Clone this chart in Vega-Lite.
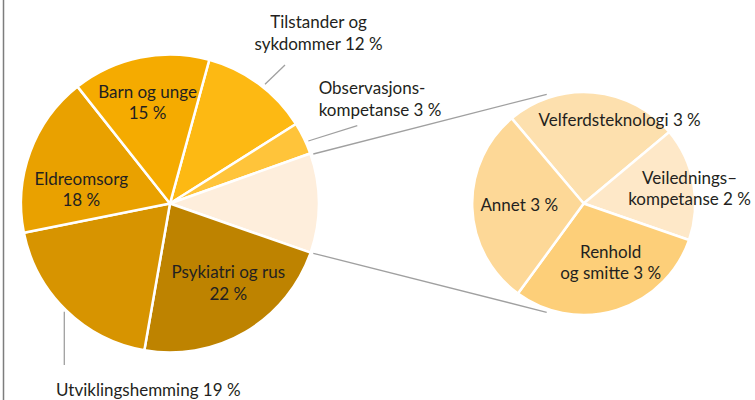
{
  "$schema": "https://vega.github.io/schema/vega-lite/v6.json",
  "width": 755,
  "height": 393,
  "padding": {"left": 0, "right": 0, "top": 7, "bottom": 0},
  "autosize": {"type": "none"},
  "background": "white",
  "config": {
    "view": {"stroke": null},
    "text": {"font": "Lato", "fontSize": 17, "color": "#231F20", "lineBreak": "\n", "lineHeight": 21.5}
  },
  "datasets": {
    "main": [
      {"pie": "main", "category": "Tilstander og sykdommer", "value": 11.8, "rank": 1, "label": "Tilstander og\nsykdommer 12 %"},
      {"pie": "main", "category": "Observasjonskompetanse", "value": 3.5, "rank": 2, "label": "Observasjons-\nkompetanse 3 %"},
      {"pie": "main", "category": "Andre", "value": 10.8, "rank": 3, "label": ""},
      {"pie": "main", "category": "Psykiatri og rus", "value": 22.4, "rank": 4, "label": "Psykiatri og rus\n22 %"},
      {"pie": "main", "category": "Utviklingshemming", "value": 19.1, "rank": 5, "label": "Utviklingshemming 19 %"},
      {"pie": "main", "category": "Eldreomsorg", "value": 17.5, "rank": 6, "label": "Eldreomsorg\n18 %"},
      {"pie": "main", "category": "Barn og unge", "value": 14.9, "rank": 7, "label": "Barn og unge\n15 %"}
    ],
    "detail": [
      {"pie": "detail", "category": "Velferdsteknologi", "value": 2.71, "rank": 1, "label": "Velferdsteknologi 3 %"},
      {"pie": "detail", "category": "Veiledningskompetanse", "value": 1.77, "rank": 2, "label": "Veilednings–\nkompetanse 2 %"},
      {"pie": "detail", "category": "Renhold og smitte", "value": 3.21, "rank": 3, "label": "Renhold\nog smitte 3 %"},
      {"pie": "detail", "category": "Annet", "value": 3.11, "rank": 4, "label": "Annet 3 %"}
    ]
  },
  "resolve": {"scale": {"x": "independent", "y": "independent", "theta": "independent", "color": "independent"}},
  "layer": [
    {
      "data": {"values": [{}]},
      "mark": {"type": "rule", "color": "#7d7d7d", "strokeWidth": 1.5},
      "encoding": {
        "x": {"datum": 3.5, "type": "quantitative", "scale": {"domain": [0, 755], "nice": false, "zero": false}, "axis": null},
        "y": {"datum": 0, "type": "quantitative", "scale": {"domain": [7, 400], "reverse": true, "nice": false, "zero": false}, "axis": null},
        "y2": {"datum": 400}
      }
    },
    {
      "data": {"values": [{}]},
      "mark": {"type": "rule", "color": "#a0a0a0", "strokeWidth": 1.3},
      "encoding": {
        "x": {"datum": 265, "type": "quantitative", "scale": {"domain": [0, 755], "nice": false, "zero": false}, "axis": null},
        "y": {"datum": 84.3, "type": "quantitative", "scale": {"domain": [7, 400], "reverse": true, "nice": false, "zero": false}, "axis": null},
        "x2": {"datum": 285},
        "y2": {"datum": 65}
      }
    },
    {
      "data": {"values": [{}]},
      "mark": {"type": "rule", "color": "#a0a0a0", "strokeWidth": 1.3},
      "encoding": {
        "x": {"datum": 308.3, "type": "quantitative", "scale": {"domain": [0, 755], "nice": false, "zero": false}, "axis": null},
        "y": {"datum": 141, "type": "quantitative", "scale": {"domain": [7, 400], "reverse": true, "nice": false, "zero": false}, "axis": null},
        "x2": {"datum": 357.3},
        "y2": {"datum": 125.7}
      }
    },
    {
      "data": {"values": [{}]},
      "mark": {"type": "rule", "color": "#a0a0a0", "strokeWidth": 1.3},
      "encoding": {
        "x": {"datum": 64.3, "type": "quantitative", "scale": {"domain": [0, 755], "nice": false, "zero": false}, "axis": null},
        "y": {"datum": 311.7, "type": "quantitative", "scale": {"domain": [7, 400], "reverse": true, "nice": false, "zero": false}, "axis": null},
        "x2": {"datum": 64.3},
        "y2": {"datum": 365}
      }
    },
    {
      "data": {"values": [{}]},
      "mark": {"type": "rule", "color": "#a0a0a0", "strokeWidth": 1.3},
      "encoding": {
        "x": {"datum": 313.3, "type": "quantitative", "scale": {"domain": [0, 755], "nice": false, "zero": false}, "axis": null},
        "y": {"datum": 154, "type": "quantitative", "scale": {"domain": [7, 400], "reverse": true, "nice": false, "zero": false}, "axis": null},
        "x2": {"datum": 546.7},
        "y2": {"datum": 94.3}
      }
    },
    {
      "data": {"values": [{}]},
      "mark": {"type": "rule", "color": "#a0a0a0", "strokeWidth": 1.3},
      "encoding": {
        "x": {"datum": 313.3, "type": "quantitative", "scale": {"domain": [0, 755], "nice": false, "zero": false}, "axis": null},
        "y": {"datum": 253.3, "type": "quantitative", "scale": {"domain": [7, 400], "reverse": true, "nice": false, "zero": false}, "axis": null},
        "x2": {"datum": 546.7},
        "y2": {"datum": 312.3}
      }
    },
    {
      "data": {"name": "main"},
      "mark": {"type": "arc", "outerRadius": 149, "stroke": "white", "strokeWidth": 2.5},
      "encoding": {
        "x": {"field": "pie", "type": "nominal", "scale": {"type": "point", "domain": ["main", "detail"], "padding": 0.4125, "align": 0.498}, "axis": null},
        "theta": {"field": "value", "type": "quantitative", "stack": true, "scale": {"range": [0.267, 6.5502]}},
        "order": {"field": "rank", "type": "quantitative"},
        "color": {"field": "category", "type": "nominal", "legend": null, "scale": {
          "domain": ["Tilstander og sykdommer", "Observasjonskompetanse", "Andre", "Psykiatri og rus", "Utviklingshemming", "Eldreomsorg", "Barn og unge"],
          "range": ["#FDB913", "#FFC43A", "#FEEEDC", "#BE8300", "#D79400", "#E9A100", "#F5AB00"]}}
      }
    },
    {
      "data": {"name": "detail"},
      "mark": {"type": "arc", "outerRadius": 111.5, "stroke": "white", "strokeWidth": 2.5},
      "encoding": {
        "x": {"field": "pie", "type": "nominal", "scale": {"type": "point", "domain": ["main", "detail"], "padding": 0.4125, "align": 0.498}, "axis": null},
        "theta": {"field": "value", "type": "quantitative", "stack": true, "scale": {"range": [5.5816, 11.8648]}},
        "order": {"field": "rank", "type": "quantitative"},
        "color": {"field": "category", "type": "nominal", "legend": null, "scale": {
          "domain": ["Velferdsteknologi", "Veiledningskompetanse", "Renhold og smitte", "Annet"],
          "range": ["#FDE0AE", "#FEE8C8", "#FDCF79", "#FDD897"]}}
      }
    },
    {
      "data": {"name": "main"},
      "mark": {"type": "text", "radius": 103.8, "thetaOffset": -0.017, "align": "center", "baseline": "middle", "dy": -9.5},
      "encoding": {
        "x": {"field": "pie", "type": "nominal", "scale": {"type": "point", "domain": ["main", "detail"], "padding": 0.4125, "align": 0.498}, "axis": null},
        "theta": {"field": "value", "type": "quantitative", "stack": true, "scale": {"range": [0.267, 6.5502]}},
        "order": {"field": "rank", "type": "quantitative"},
        "text": {"condition": {"test": "datum.category === 'Barn og unge'", "field": "label"}, "value": ""}
      }
    },
    {
      "data": {"name": "main"},
      "mark": {"type": "text", "radius": 89.8, "thetaOffset": -0.195, "align": "center", "baseline": "middle", "dy": -9.5},
      "encoding": {
        "x": {"field": "pie", "type": "nominal", "scale": {"type": "point", "domain": ["main", "detail"], "padding": 0.4125, "align": 0.498}, "axis": null},
        "theta": {"field": "value", "type": "quantitative", "stack": true, "scale": {"range": [0.267, 6.5502]}},
        "order": {"field": "rank", "type": "quantitative"},
        "text": {"condition": {"test": "datum.category === 'Eldreomsorg'", "field": "label"}, "value": ""}
      }
    },
    {
      "data": {"name": "main"},
      "mark": {"type": "text", "radius": 98.4, "thetaOffset": -0.103, "align": "center", "baseline": "middle", "dy": -9.5},
      "encoding": {
        "x": {"field": "pie", "type": "nominal", "scale": {"type": "point", "domain": ["main", "detail"], "padding": 0.4125, "align": 0.498}, "axis": null},
        "theta": {"field": "value", "type": "quantitative", "stack": true, "scale": {"range": [0.267, 6.5502]}},
        "order": {"field": "rank", "type": "quantitative"},
        "text": {"condition": {"test": "datum.category === 'Psykiatri og rus'", "field": "label"}, "value": ""}
      }
    },
    {
      "data": {"name": "main"},
      "mark": {"type": "text", "radius": 226.7, "thetaOffset": 0.077, "align": "center", "baseline": "middle", "dy": -9},
      "encoding": {
        "x": {"field": "pie", "type": "nominal", "scale": {"type": "point", "domain": ["main", "detail"], "padding": 0.4125, "align": 0.498}, "axis": null},
        "theta": {"field": "value", "type": "quantitative", "stack": true, "scale": {"range": [0.267, 6.5502]}},
        "order": {"field": "rank", "type": "quantitative"},
        "text": {"condition": {"test": "datum.category === 'Tilstander og sykdommer'", "field": "label"}, "value": ""}
      }
    },
    {
      "data": {"name": "main"},
      "mark": {"type": "text", "radius": 181.3, "thetaOffset": -0.157, "align": "left", "baseline": "middle", "dy": -10.5},
      "encoding": {
        "x": {"field": "pie", "type": "nominal", "scale": {"type": "point", "domain": ["main", "detail"], "padding": 0.4125, "align": 0.498}, "axis": null},
        "theta": {"field": "value", "type": "quantitative", "stack": true, "scale": {"range": [0.267, 6.5502]}},
        "order": {"field": "rank", "type": "quantitative"},
        "text": {"condition": {"test": "datum.category === 'Observasjonskompetanse'", "field": "label"}, "value": ""}
      }
    },
    {
      "data": {"name": "main"},
      "mark": {"type": "text", "radius": 189.4, "thetaOffset": -0.658, "align": "center", "baseline": "middle", "dy": -0.5},
      "encoding": {
        "x": {"field": "pie", "type": "nominal", "scale": {"type": "point", "domain": ["main", "detail"], "padding": 0.4125, "align": 0.498}, "axis": null},
        "theta": {"field": "value", "type": "quantitative", "stack": true, "scale": {"range": [0.267, 6.5502]}},
        "order": {"field": "rank", "type": "quantitative"},
        "text": {"condition": {"test": "datum.category === 'Utviklingshemming'", "field": "label"}, "value": ""}
      }
    },
    {
      "data": {"name": "detail"},
      "mark": {"type": "text", "radius": 91.4, "thetaOffset": 0.318, "align": "center", "baseline": "middle", "dy": 2},
      "encoding": {
        "x": {"field": "pie", "type": "nominal", "scale": {"type": "point", "domain": ["main", "detail"], "padding": 0.4125, "align": 0.498}, "axis": null},
        "theta": {"field": "value", "type": "quantitative", "stack": true, "scale": {"range": [5.5816, 11.8648]}},
        "order": {"field": "rank", "type": "quantitative"},
        "text": {"condition": {"test": "datum.category === 'Velferdsteknologi'", "field": "label"}, "value": ""}
      }
    },
    {
      "data": {"name": "detail"},
      "mark": {"type": "text", "radius": 107, "thetaOffset": 0.036, "align": "center", "baseline": "middle", "dy": -9.5},
      "encoding": {
        "x": {"field": "pie", "type": "nominal", "scale": {"type": "point", "domain": ["main", "detail"], "padding": 0.4125, "align": 0.498}, "axis": null},
        "theta": {"field": "value", "type": "quantitative", "stack": true, "scale": {"range": [5.5816, 11.8648]}},
        "order": {"field": "rank", "type": "quantitative"},
        "text": {"condition": {"test": "datum.category === 'Veiledningskompetanse'", "field": "label"}, "value": ""}
      }
    },
    {
      "data": {"name": "detail"},
      "mark": {"type": "text", "radius": 64.6, "thetaOffset": -0.128, "align": "center", "baseline": "middle", "dy": -9.5},
      "encoding": {
        "x": {"field": "pie", "type": "nominal", "scale": {"type": "point", "domain": ["main", "detail"], "padding": 0.4125, "align": 0.498}, "axis": null},
        "theta": {"field": "value", "type": "quantitative", "stack": true, "scale": {"range": [5.5816, 11.8648]}},
        "order": {"field": "rank", "type": "quantitative"},
        "text": {"condition": {"test": "datum.category === 'Renhold og smitte'", "field": "label"}, "value": ""}
      }
    },
    {
      "data": {"name": "detail"},
      "mark": {"type": "text", "radius": 64.5, "thetaOffset": 0, "align": "center", "baseline": "middle"},
      "encoding": {
        "x": {"field": "pie", "type": "nominal", "scale": {"type": "point", "domain": ["main", "detail"], "padding": 0.4125, "align": 0.498}, "axis": null},
        "theta": {"field": "value", "type": "quantitative", "stack": true, "scale": {"range": [5.5816, 11.8648]}},
        "order": {"field": "rank", "type": "quantitative"},
        "text": {"condition": {"test": "datum.category === 'Annet'", "field": "label"}, "value": ""}
      }
    }
  ]
}
